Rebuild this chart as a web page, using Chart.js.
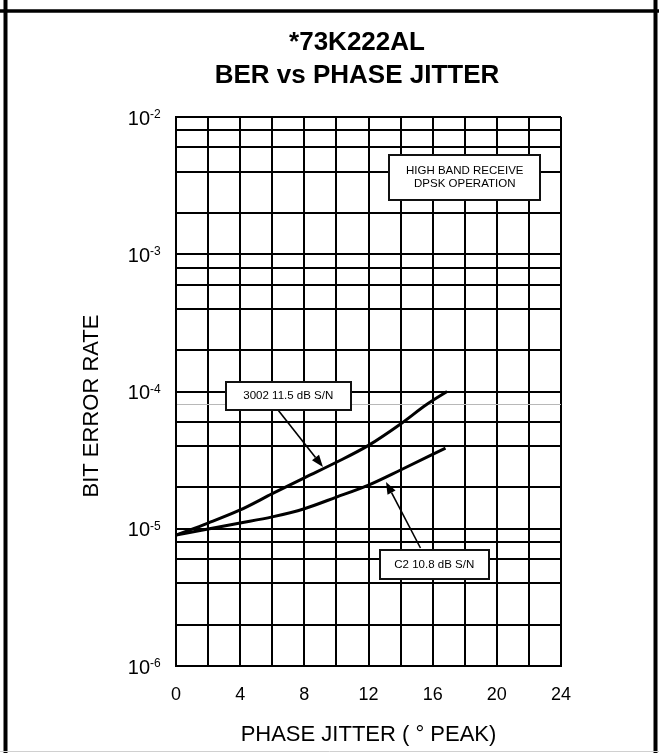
<!DOCTYPE html>
<html>
<head>
<meta charset="utf-8">
<script src="https://cdn.jsdelivr.net/npm/chart.js@4.4.1/dist/chart.umd.min.js"></script>
<style>
html, body { margin: 0; padding: 0; background: #fff; }
#wrap { width: 659px; height: 753px; position: relative; }
</style>
</head>
<body>
<div id="wrap"><canvas id="c" width="659" height="753"></canvas></div>
<script>
// ---------- data ----------
const titleLines = ['*73K222AL', 'BER vs PHASE JITTER'];
const xTitle = 'PHASE JITTER ( \u00B0 PEAK)';
const yTitle = 'BIT ERROR RATE';
const xGridValues = [0, 2, 4, 6, 8, 10, 12, 14, 16, 18, 20, 22, 24];
const xTickLabels = [0, 4, 8, 12, 16, 20, 24];
const yDecades = [-6, -5, -4, -3, -2];
const yMinorMultipliers = [2, 4, 6, 8];
const seriesNames = ['3002 11.5 dB S/N', 'C2 10.8 dB S/N'];
const jitter3002 = [0, 2, 4, 6, 8, 10, 12, 14, 15.6, 16.9];
const ber3002 = [9.0e-6, 1.1e-5, 1.37e-5, 1.8e-5, 2.35e-5, 3.05e-5, 4.05e-5, 5.8e-5, 8.0e-5, 1.0e-4];
const jitterC2 = [0, 2, 4, 6, 8, 10, 12, 14, 16.8];
const berC2 = [9.0e-6, 9.95e-6, 1.1e-5, 1.22e-5, 1.4e-5, 1.7e-5, 2.08e-5, 2.68e-5, 3.87e-5];
const noteText = ['HIGH BAND RECEIVE', 'DPSK OPERATION'];

// ---------- derived ----------
const FONT = "'Liberation Sans', Arial, Helvetica, sans-serif";
const yTickValues = [];
yDecades.forEach((d, i) => {
  yTickValues.push(Math.pow(10, d));
  if (i < yDecades.length - 1) yMinorMultipliers.forEach(m => yTickValues.push(m * Math.pow(10, d)));
});
const grayGridValue = 8e-5;
const isGray = v => Math.abs(v - grayGridValue) / grayGridValue < 1e-6;

const notes = [
  { lines: noteText, x: 18, y: 3.62e-3, w: 151, h: 45, lh: 13 },
  { lines: [seriesNames[0]], x: 7.0, y: 9.27e-5, w: 125, h: 28, lh: 13,
    from: [6.36, 7.33e-5], to: [9.16, 2.82e-5] },
  { lines: [seriesNames[1]], x: 16.1, y: 5.5e-6, w: 109, h: 29, lh: 13,
    from: [15.24, 7.24e-6], to: [13.09, 2.19e-5] }
];

const decor = {
  id: 'decor',
  beforeDraw(chart) {
    const c = chart.ctx;
    c.save();
    c.fillStyle = '#fff';
    c.fillRect(0, 0, chart.width, chart.height);
    c.strokeStyle = '#000';
    c.lineWidth = 4;
    c.beginPath();
    c.moveTo(5.5, 0); c.lineTo(5.5, 753);
    c.moveTo(655.5, 0); c.lineTo(655.5, 753);
    c.stroke();
    c.lineWidth = 3.5;
    c.beginPath();
    c.moveTo(0, 11); c.lineTo(659, 11);
    c.stroke();
    c.strokeStyle = '#d0d0d0';
    c.lineWidth = 1;
    c.beginPath();
    c.moveTo(0, 751.5); c.lineTo(659, 751.5);
    c.stroke();
    // chart title
    c.fillStyle = '#000';
    c.font = 'bold 26px ' + FONT;
    c.textAlign = 'center';
    c.textBaseline = 'alphabetic';
    c.fillText(titleLines[0], 357, 50);
    c.fillText(titleLines[1], 357, 83);
    // y axis title
    c.save();
    c.translate(92, 406);
    c.rotate(-Math.PI / 2);
    c.font = '22px ' + FONT;
    c.textBaseline = 'middle';
    c.fillText(yTitle, 0, 0);
    c.restore();
    c.restore();
  },
  afterDraw(chart) {
    const c = chart.ctx;
    const xs = chart.scales.x, ys = chart.scales.y;
    c.save();
    // y tick labels with superscript exponent
    c.fillStyle = '#000';
    yDecades.forEach(d => {
      const py = ys.getPixelForValue(Math.pow(10, d));
      c.font = '20px ' + FONT;
      c.textAlign = 'right';
      c.textBaseline = 'alphabetic';
      c.fillText('10', 150, py + 7.5);
      c.font = '12px ' + FONT;
      c.textAlign = 'left';
      c.fillText(String(d), 150, py + 1);
    });
    // arrows
    notes.forEach(n => {
      if (!n.from) return;
      const x1 = xs.getPixelForValue(n.from[0]), y1 = ys.getPixelForValue(n.from[1]);
      const x2 = xs.getPixelForValue(n.to[0]), y2 = ys.getPixelForValue(n.to[1]);
      const ang = Math.atan2(y2 - y1, x2 - x1);
      const L = 12, W = 4.5;
      const bx = x2 - L * Math.cos(ang), by = y2 - L * Math.sin(ang);
      c.strokeStyle = '#000';
      c.lineWidth = 1.6;
      c.beginPath(); c.moveTo(x1, y1); c.lineTo(bx, by); c.stroke();
      c.fillStyle = '#000';
      c.beginPath();
      c.moveTo(x2, y2);
      c.lineTo(bx + W * Math.sin(ang), by - W * Math.cos(ang));
      c.lineTo(bx - W * Math.sin(ang), by + W * Math.cos(ang));
      c.closePath(); c.fill();
    });
    // boxes
    notes.forEach(n => {
      const cx = xs.getPixelForValue(n.x), cy = ys.getPixelForValue(n.y);
      const l = Math.round(cx - n.w / 2), t = Math.round(cy - n.h / 2);
      c.fillStyle = '#fff';
      c.fillRect(l, t, n.w, n.h);
      c.strokeStyle = '#111';
      c.lineWidth = 2;
      c.strokeRect(l, t, n.w, n.h);
      c.fillStyle = '#000';
      c.font = '11.5px ' + FONT;
      c.textAlign = 'center';
      c.textBaseline = 'middle';
      const n0 = (n.lines.length - 1) / 2;
      n.lines.forEach((s, i) => c.fillText(s, cx, cy + (i - n0) * n.lh));
    });
    c.restore();
  }
};

const mk = (xs, ys) => xs.map((x, i) => ({ x: x, y: ys[i] }));

new Chart(document.getElementById('c'), {
  type: 'line',
  data: {
    datasets: [
      { label: seriesNames[0], data: mk(jitter3002, ber3002), borderColor: '#000', borderWidth: 3,
        pointRadius: 0, cubicInterpolationMode: 'monotone', fill: false },
      { label: seriesNames[1], data: mk(jitterC2, berC2), borderColor: '#000', borderWidth: 3,
        pointRadius: 0, cubicInterpolationMode: 'monotone', fill: false }
    ]
  },
  options: {
    responsive: false,
    animation: false,
    devicePixelRatio: 1,
    layout: { padding: { left: 0, right: 98, top: 117, bottom: 0 } },
    plugins: {
      legend: { display: false },
      tooltip: { enabled: false },
      title: { display: false }
    },
    scales: {
      x: {
        type: 'linear', min: 0, max: 24,
        afterBuildTicks: s => { s.ticks = xGridValues.map(v => ({ value: v })); },
        afterFit: s => { s.height = 87; },
        ticks: {
          autoSkip: false, maxRotation: 0, padding: 18, color: '#000',
          font: { family: FONT, size: 18 },
          callback: v => xTickLabels.includes(v) ? String(v) : ''
        },
        grid: { color: '#000', lineWidth: 2, drawTicks: false },
        border: { color: '#000', width: 2 },
        title: { display: true, text: xTitle, color: '#000',
          font: { family: FONT, size: 22 }, padding: { top: 0, bottom: 5 } }
      },
      y: {
        type: 'logarithmic', min: 1e-6, max: 1e-2,
        afterBuildTicks: s => { s.ticks = yTickValues.map(v => ({ value: v })); },
        afterFit: s => { s.width = 176; },
        ticks: { display: false },
        grid: {
          drawTicks: false,
          color: ctx => (ctx.tick && isGray(ctx.tick.value)) ? '#b8b8b8' : '#000',
          lineWidth: ctx => (ctx.tick && isGray(ctx.tick.value)) ? 1 : 2
        },
        border: { color: '#000', width: 2 },
        title: { display: false }
      }
    }
  },
  plugins: [decor]
});
</script>
</body>
</html>
